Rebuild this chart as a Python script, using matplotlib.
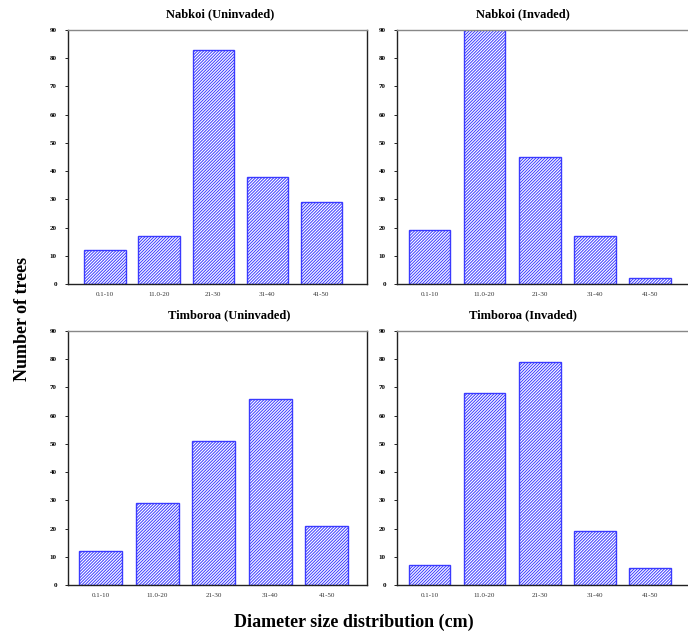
import matplotlib.pyplot as plt
import numpy as np

# diameter classes and tree counts
classes = ["0.1-10", "11.0-20", "21-30", "31-40", "41-50"]
nabkoi_uninvaded = [12, 17, 83, 38, 29]
nabkoi_invaded = [19, 91, 45, 17, 2]
timboroa_uninvaded = [12, 29, 51, 66, 21]
timboroa_invaded = [7, 68, 79, 19, 6]

titles = ["Nabkoi (Uninvaded)", "Nabkoi (Invaded)",
          "Timboroa (Uninvaded)", "Timboroa (Invaded)"]
panels = [nabkoi_uninvaded, nabkoi_invaded, timboroa_uninvaded, timboroa_invaded]

plt.rcParams['font.family'] = ['Liberation Serif', 'DejaVu Serif']
plt.rcParams['hatch.linewidth'] = 0.7

fig = plt.figure(figsize=(6.88, 6.37), dpi=100)

# axes positions in figure fractions (left, bottom, width, height)
W, H = 688.0, 637.0
boxes = [
    (68 / W, 1 - 284 / H, 299 / W, 254 / H),
    (397 / W, 1 - 284 / H, 293 / W, 254 / H),
    (68 / W, 1 - 585 / H, 299 / W, 254 / H),
    (397 / W, 1 - 585 / H, 293 / W, 254 / H),
]
xlims = [(-0.685, 4.85), (-0.59, 4.73), (-0.58, 4.71), (-0.59, 4.73)]
title_x = [0.51, 0.43, 0.54, 0.43]

x = np.arange(len(classes))
for i, (vals, title) in enumerate(zip(panels, titles)):
    ax = fig.add_axes(boxes[i])
    ax.bar(x, vals, width=0.76, color="white", edgecolor="#3a3aff",
           hatch="/" * 11, linewidth=1.0)
    ax.set_ylim(0, 90)
    ax.set_xlim(*xlims[i])
    ax.set_yticks(np.arange(0, 91, 10))
    ax.set_xticks(x)
    ax.set_xticklabels(classes)
    ax.tick_params(axis="y", labelsize=5, length=2, width=0.6, pad=6)
    ax.tick_params(axis="x", labelsize=5, length=0, pad=6, labelcolor="#333333")
    for lab in ax.get_yticklabels():
        lab.set_fontweight("bold")
    ax.spines["left"].set_color("#222222")
    ax.spines["bottom"].set_color("#222222")
    ax.spines["top"].set_color("#888888")
    ax.spines["right"].set_color("#222222")
    for s in ax.spines.values():
        s.set_linewidth(1.0)
    ax.set_title(title, fontsize=9, fontweight="bold", x=title_x[i], pad=9)

fig.text(0.032, 0.5, "Number of trees", rotation=90, ha="center", va="center",
         fontsize=13, fontweight="bold")
fig.text(0.514, 0.023, "Diameter size distribution (cm)", ha="center", va="center",
         fontsize=13, fontweight="bold")

fig.savefig("out.png", dpi=100)
